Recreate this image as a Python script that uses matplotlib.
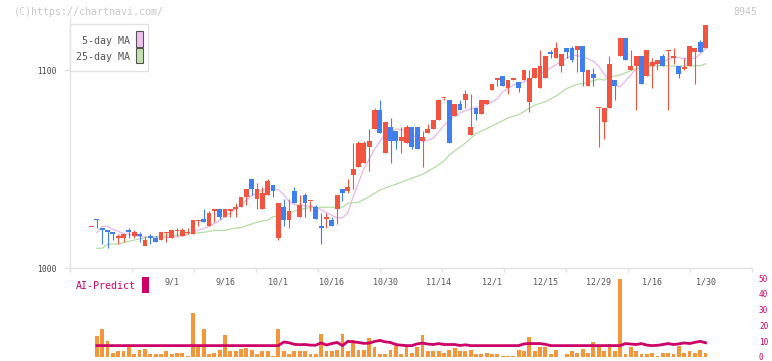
import numpy as np
import matplotlib.pyplot as plt
from matplotlib.patches import Rectangle

# daily prices, one entry per trading day
opens = [1021, 1025, 1020, 1019, 1018, 1015, 1015, 1019, 1016, 1017,
         1011, 1016, 1015, 1014, 1018, 1015, 1019, 1016, 1018, 1017,
         1024, 1025, 1021, 1029, 1030, 1026, 1029, 1030, 1031, 1036,
         1045, 1035, 1030, 1037, 1042, 1015, 1031, 1024, 1039, 1026,
         1037, 1034, 1031, 1021, 1025, 1024, 1030, 1040, 1039, 1047,
         1051, 1053, 1061, 1070, 1080, 1058, 1071, 1069, 1064, 1063,
         1071, 1071, 1064, 1068, 1070, 1075, 1086, 1085, 1077, 1083,
         1085, 1067, 1081, 1078, 1083, 1090, 1095, 1097, 1091, 1095,
         1094, 1095, 1084, 1096, 1091, 1096, 1109, 1106, 1102, 1111,
         1111, 1110, 1112, 1092, 1098, 1081, 1074, 1081, 1095, 1107,
         1116, 1100, 1102, 1107, 1097, 1102, 1103, 1107, 1110, 1106,
         1102, 1101, 1102, 1109, 1114, 1111]
highs = [1021, 1025, 1020, 1019, 1018, 1017, 1017, 1020, 1019, 1018,
         1016, 1017, 1016, 1018, 1018, 1019, 1020, 1020, 1020, 1024,
         1024, 1030, 1029, 1030, 1030, 1030, 1030, 1033, 1036, 1040,
         1045, 1043, 1041, 1045, 1042, 1033, 1035, 1035, 1041, 1037,
         1038, 1034, 1032, 1028, 1028, 1026, 1037, 1040, 1045, 1063,
         1064, 1064, 1070, 1081, 1085, 1074, 1076, 1069, 1071, 1072,
         1071, 1071, 1069, 1073, 1075, 1085, 1086, 1085, 1083, 1085,
         1090, 1088, 1081, 1085, 1085, 1093, 1096, 1097, 1095, 1096,
         1094, 1100, 1100, 1101, 1110, 1107, 1110, 1114, 1108, 1111,
         1112, 1112, 1112, 1100, 1101, 1081, 1081, 1107, 1095, 1116,
         1116, 1110, 1107, 1107, 1110, 1106, 1105, 1108, 1110, 1111,
         1102, 1106, 1112, 1111, 1115, 1123]
lows = [1021, 1020, 1012, 1010, 1014, 1012, 1013, 1015, 1015, 1013,
        1011, 1012, 1013, 1014, 1013, 1015, 1016, 1016, 1017, 1017,
        1021, 1023, 1021, 1023, 1025, 1026, 1026, 1026, 1031, 1032,
        1037, 1030, 1030, 1037, 1036, 1014, 1021, 1020, 1033, 1026,
        1026, 1029, 1025, 1012, 1020, 1021, 1022, 1034, 1038, 1040,
        1051, 1053, 1049, 1070, 1068, 1058, 1053, 1060, 1058, 1063,
        1060, 1060, 1051, 1068, 1070, 1075, 1085, 1063, 1077, 1080,
        1081, 1067, 1075, 1078, 1083, 1090, 1092, 1092, 1088, 1095,
        1089, 1095, 1079, 1096, 1091, 1096, 1106, 1106, 1099, 1106,
        1104, 1099, 1092, 1092, 1092, 1061, 1065, 1081, 1085, 1107,
        1105, 1100, 1080, 1093, 1097, 1091, 1100, 1102, 1080, 1103,
        1096, 1100, 1102, 1093, 1109, 1111]
closes = [1021, 1024, 1019, 1018, 1017, 1016, 1017, 1018, 1018, 1016,
          1014, 1015, 1013, 1018, 1018, 1019, 1019, 1019, 1018, 1024,
          1024, 1023, 1028, 1030, 1026, 1030, 1030, 1031, 1036, 1040,
          1040, 1040, 1038, 1044, 1039, 1033, 1024, 1029, 1033, 1032,
          1033, 1034, 1025, 1020, 1026, 1021, 1037, 1038, 1041, 1050,
          1063, 1063, 1064, 1080, 1068, 1074, 1064, 1064, 1066, 1071,
          1061, 1060, 1066, 1070, 1075, 1085, 1086, 1063, 1083, 1080,
          1088, 1071, 1078, 1085, 1085, 1093, 1096, 1092, 1095, 1096,
          1091, 1100, 1096, 1101, 1102, 1107, 1108, 1111, 1108, 1109,
          1105, 1112, 1099, 1100, 1096, 1081, 1081, 1103, 1092, 1116,
          1105, 1102, 1107, 1093, 1110, 1104, 1105, 1102, 1110, 1107,
          1098, 1101, 1112, 1111, 1109, 1123]

volume = [0, 13.5, 17.9, 10.4, 2.8, 3.5, 4.1, 6.6, 2.2, 4.7,
          5.3, 2.2, 1.6, 2.2, 3.5, 2.2, 2.8, 2.8, 0.9, 28.0,
          6.6, 17.9, 2.2, 2.8, 4.7, 14.2, 4.1, 3.5, 5.3, 6.0,
          4.7, 2.2, 4.1, 4.1, 0.9, 17.9, 3.5, 2.2, 3.5, 4.1,
          4.1, 1.6, 2.2, 14.8, 4.1, 4.1, 4.7, 14.8, 4.1, 11.0,
          4.7, 4.7, 12.3, 6.6, 1.6, 1.6, 4.7, 7.2, 2.2, 6.6,
          2.8, 6.6, 14.2, 3.5, 3.5, 3.5, 2.8, 4.7, 6.0, 3.5,
          3.5, 4.7, 1.6, 1.6, 2.8, 2.2, 1.6, 0.9, 0.9, 0.9,
          4.7, 4.1, 12.9, 4.1, 6.6, 6.6, 2.2, 4.7, 0.3, 1.6,
          3.5, 2.8, 5.3, 2.8, 9.7, 6.6, 3.5, 8.5, 3.5, 49.4,
          1.6, 6.6, 4.1, 1.6, 2.2, 2.8, 0.9, 2.8, 2.8, 1.6,
          7.2, 2.8, 3.5, 2.8, 4.7, 2.8]

ai_predict = [np.nan] + [7.2] * 35 + [
    9.5, 9.0, 8.0, 7.8, 7.9, 7.5, 7.5, 8.9, 7.6, 8.5,
    9.2, 7.2, 9.9, 9.6, 9.2, 8.6, 8.8, 9.8, 10.5, 9.6,
    9.2, 7.9, 7.5, 7.2, 7.2, 8.3, 8.8, 8.2, 7.9, 8.5,
    7.9, 7.9, 7.9, 7.3, 7.7, 7.2, 7.2, 7.2, 7.2, 7.2,
    7.2, 7.2, 7.2, 7.2, 7.2, 8.3, 8.5, 8.5, 8.5, 8.0,
    7.2, 7.2, 7.2, 7.2, 7.2, 7.2, 7.2, 7.2, 7.2, 7.2,
    7.2, 7.2, 7.2, 7.2, 8.5, 8.2, 7.9, 8.5, 7.5, 7.2,
    7.4, 7.9, 8.5, 7.9, 8.3, 8.9, 8.5, 9.3, 9.9, 9.0]

ma5_day = [1, 2, 3, 4, 6, 8, 10, 12, 14, 16, 18, 19, 21, 22, 24, 26, 28, 30,
           32, 33, 35, 36, 37, 38, 40, 42, 44, 46, 47, 48, 49, 51, 53, 55, 57,
           59, 61, 62, 64, 66, 68, 70, 72, 74, 76, 77, 79, 81, 83, 85, 87, 89,
           90, 92, 94, 95, 96, 98, 99, 100, 102, 104, 106, 107, 109, 111, 113,
           114, 115]
ma5 = [1018, 1021, 1021, 1019.5, 1017.5, 1016.5, 1015.5, 1015.8, 1015.4,
       1015.8, 1016.8, 1018.3, 1020, 1021, 1024, 1028, 1032, 1036.5, 1039.5,
       1040.3, 1039.7, 1037, 1033.5, 1032, 1031.5, 1031, 1028, 1025.3, 1025.3,
       1028, 1036, 1050, 1060, 1067.7, 1070.2, 1069.5, 1065.5, 1063.8, 1065.5,
       1072, 1077, 1079.5, 1081, 1082.5, 1085.5, 1089, 1092.5, 1094, 1096.5,
       1099.3, 1102.8, 1106, 1107.6, 1106.8, 1104.5, 1102, 1098, 1092.4,
       1091.6, 1094.5, 1100.5, 1102.2, 1103.2, 1104.2, 1106.6, 1105.9,
       1105.9, 1108, 1111]

ma25_day = [1, 2, 3, 5, 7, 8, 10, 12, 14, 18, 21, 23, 25, 27, 28, 29, 31, 33,
            34, 36, 38, 40, 42, 45, 47, 48, 50, 52, 54, 57, 59, 62, 64, 66, 67,
            70, 72, 75, 78, 80, 83, 85, 87, 89, 91, 93, 95, 96, 97, 99, 101,
            103, 106, 110, 114, 115]
ma25 = [1010, 1010, 1012, 1012.1, 1013.5, 1014.1, 1015.3, 1015.8, 1016.2,
        1017.2, 1018, 1019, 1019, 1020.2, 1020.4, 1021.4, 1023.1, 1024.2,
        1025.9, 1026.8, 1028.8, 1030.2, 1030.7, 1030.7, 1030.7, 1032.7,
        1033.2, 1036, 1039.4, 1042.3, 1044.4, 1047.3, 1050.4, 1054, 1057.1,
        1063.1, 1067.9, 1071.7, 1075.8, 1077.5, 1082.3, 1084, 1086.9, 1090.7,
        1092.8, 1093.7, 1095.5, 1094.9, 1096.5, 1097.5, 1099.7, 1101.5,
        1102.2, 1102, 1102.2, 1103.1]

date_labels = ['9/1', '9/16', '10/1', '10/16', '10/30', '11/14',
               '12/1', '12/15', '12/29', '1/16', '1/30']
date_pos = [15, 25, 35, 45, 55, 65, 75, 85, 95, 105, 115]

RED = '#f2543f'
BLUE = '#3f7ff0'
GRID = '#e2e2e2'
MAG = '#cc0066'
MONO = 'DejaVu Sans Mono'

W, H = 772, 361
fig = plt.figure(figsize=(W / 100, H / 100), dpi=100)


def box(l, t, r, b):
    # pixel box -> figure fraction
    return [l / W, 1 - b / H, (r - l) / W, (b - t) / H]


ax = fig.add_axes(box(70, 18, 752, 268))
vax = fig.add_axes(box(70, 278, 752, 357))
xlim = (-4.03, 123.7)

x = np.arange(len(opens))
o, h, l, c = (np.array(a, dtype=float) for a in (opens, highs, lows, closes))
colors = np.where(c >= o, RED, BLUE)

ax.plot(ma5_day, ma5, color='#e9b6ea', lw=0.9, zorder=1)
ax.plot(ma25_day, ma25, color='#b5dca6', lw=0.9, zorder=1)
ax.vlines(x, l, h, colors=colors, lw=0.8, zorder=2)
body = np.abs(c - o)
bh = np.maximum(body, 0.7)
ax.bar(x, bh, bottom=np.minimum(o, c) - (bh - body) / 2, width=0.9,
       color=colors, zorder=3)

ax.set_xlim(*xlim)
ax.set_ylim(1000, 1126.3)
for s in ('top', 'right'):
    ax.spines[s].set_visible(False)
for s in ('left', 'bottom'):
    ax.spines[s].set_color(GRID)
    ax.spines[s].set_linewidth(1.0)
ax.set_yticks([1000, 1100])
ax.set_yticklabels(['1000', '1100'], family=MONO, fontsize=5.8, color='#444')
ax.tick_params(axis='y', length=4, width=1, color=GRID, pad=6)
ax.set_xticks(date_pos)
ax.set_xticklabels(date_labels, family=MONO, fontsize=6, color='#555')
ax.set_xticks(np.linspace(xlim[0], xlim[1], 12), minor=True)
ax.tick_params(axis='x', which='major', length=0, pad=7)
ax.tick_params(axis='x', which='minor', length=3, width=1, color=GRID)

vax.patch.set_alpha(0)
vax.bar(x, volume, width=0.72, color='#f5963c', zorder=1)
vax.plot(x, ai_predict, color=MAG, lw=2.0, zorder=2)
vax.set_xlim(*xlim)
vax.set_ylim(0, 50)
for s in vax.spines.values():
    s.set_visible(False)
vax.set_xticks([])
vax.yaxis.tick_right()
vax.set_yticks([0, 10, 20, 30, 40, 50])
vax.set_yticklabels(['0', '10', '20', '30', '40', '50'], family=MONO,
                    fontsize=5.5, color=MAG)
vax.tick_params(axis='y', length=0, pad=5)

fig.text(14 / W, 1 - 12 / H, '(C)https://chartnavi.com/', family=MONO,
         fontsize=7.2, color='#c8c8c8', va='center')
fig.text(757 / W, 1 - 12 / H, '8945', family=MONO, fontsize=7.2,
         color='#c8c8c8', va='center', ha='right')

fig.add_artist(Rectangle(box(70, 24, 148, 71)[:2], 78 / W, 47 / H,
                         transform=fig.transFigure, fc='white', ec=GRID,
                         lw=1, zorder=5))
fig.text(130 / W, 1 - 41 / H, '5-day MA', family=MONO, fontsize=7.2,
         color='#555', ha='right', va='center', zorder=6)
fig.text(130 / W, 1 - 57 / H, '25-day MA', family=MONO, fontsize=7.2,
         color='#555', ha='right', va='center', zorder=6)
fig.add_artist(Rectangle(box(136, 31, 142.5, 46.5)[:2], 6.5 / W, 15.5 / H,
                         transform=fig.transFigure, fc='#f0c0f0', ec='#555',
                         lw=0.8, zorder=6))
fig.add_artist(Rectangle(box(136, 48, 142.5, 63)[:2], 6.5 / W, 15 / H,
                         transform=fig.transFigure, fc='#c0e0b0', ec='#555',
                         lw=0.8, zorder=6))

fig.text(76 / W, 1 - 286 / H, 'AI-Predict', family=MONO, fontsize=7.2,
         color=MAG, va='center')
fig.add_artist(Rectangle(box(142, 277, 149, 293)[:2], 7 / W, 16 / H,
                         transform=fig.transFigure, fc=MAG, ec='none'))

fig.savefig('out.png', dpi=100)
